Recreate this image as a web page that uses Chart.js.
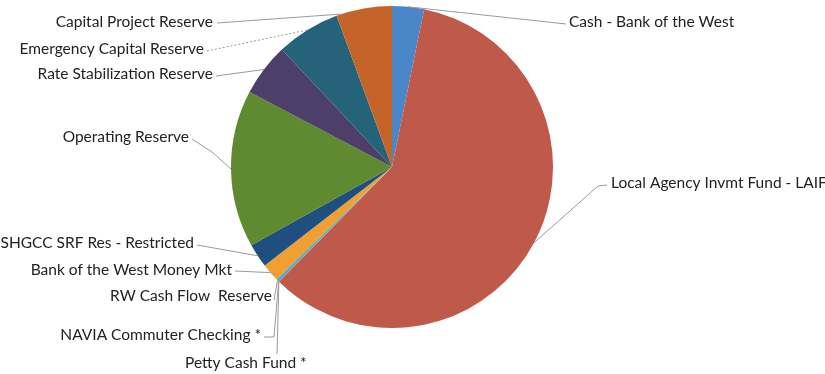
<!DOCTYPE html>
<html>
<head>
<meta charset="utf-8">
<script src="https://cdn.jsdelivr.net/npm/chart.js@4"></script>
<style>
  html, body { margin: 0; padding: 0; background: #ffffff; }
  #wrap { width: 825px; height: 374px; position: relative; }
</style>
</head>
<body>
<div id="wrap"><canvas id="c" width="825" height="374"></canvas></div>
<script>
// ---- data ----
const categories = [
  "Cash - Bank of the West",
  "Local Agency Invmt Fund - LAIF",
  "Petty Cash Fund *",
  "NAVIA Commuter Checking *",
  "RW Cash Flow  Reserve",
  "Bank of the West Money Mkt",
  "SHGCC SRF Res - Restricted",
  "Operating Reserve",
  "Rate Stabilization Reserve",
  "Emergency Capital Reserve",
  "Capital Project Reserve"
];
const percentValues = [3.2, 59.2, 0.03, 0.05, 0.25, 1.8, 2.4, 15.8, 5.3, 6.4, 5.6];
const sliceColors = [
  "#4a86c8", "#bf5a4b", "#8cae4a", "#7a5a9a", "#4babc8", "#f0a032",
  "#1f4f80", "#5f8a30", "#4d3f6a", "#24637a", "#c46428"
];

// ---- label layout (text anchor, alignment, leader path) ----
const labelLayout = [
  { x: 569, y: 22,  align: "left",  from: [566, 24], via: [] },
  { x: 611, y: 183, align: "left",  from: [607, 185], via: [[598, 186]] },
  { x: 185, y: 363, align: "left",  from: [277, 354], via: [] },
  { x: 261, y: 335, align: "right", from: [264, 337], via: [[274, 337]] },
  { x: 272, y: 296, align: "right", from: [274, 300], via: [] },
  { x: 232, y: 270, align: "right", from: [235, 271], via: [] },
  { x: 194, y: 243, align: "right", from: [197, 245], via: [] },
  { x: 189, y: 137, align: "right", from: [192, 139], via: [[212, 152]] },
  { x: 213, y: 74,  align: "right", from: [216, 76], via: [] },
  { x: 204, y: 49,  align: "right", from: [207, 51], via: [], dashed: true },
  { x: 213, y: 22,  align: "right", from: [217, 23], via: [] }
];
const leaderFraction = [0.5, 0.5, 0.5, 0.5, 0.5, 0.5, 0.5, 0.5, 0.5, 0.5, 0.1];

const labelPlugin = {
  id: "pieLabels",
  afterDatasetsDraw(chart) {
    const ctx = chart.ctx;
    const meta = chart.getDatasetMeta(0);
    ctx.save();
    ctx.font = "15.5px Lato";
    ctx.fillStyle = "#222222";
    ctx.textBaseline = "middle";
    meta.data.forEach((arc, i) => {
      const p = arc.getProps(["x", "y", "startAngle", "endAngle", "outerRadius"], true);
      const f = leaderFraction[i];
      const a = p.startAngle + (p.endAngle - p.startAngle) * f;
      const ex = p.x + Math.cos(a) * p.outerRadius;
      const ey = p.y + Math.sin(a) * p.outerRadius;
      const L = labelLayout[i];
      ctx.beginPath();
      ctx.strokeStyle = "#9a9a9a";
      ctx.lineWidth = 1;
      ctx.setLineDash(L.dashed ? [2, 2] : []);
      ctx.moveTo(L.from[0], L.from[1]);
      L.via.forEach(v => ctx.lineTo(v[0], v[1]));
      ctx.lineTo(ex, ey);
      ctx.stroke();
      ctx.setLineDash([]);
      ctx.textAlign = L.align;
      ctx.fillText(categories[i], L.x, L.y);
    });
    ctx.restore();
  }
};

new Chart(document.getElementById("c"), {
  type: "pie",
  data: {
    labels: categories,
    datasets: [{
      data: percentValues,
      backgroundColor: sliceColors,
      borderWidth: 0
    }]
  },
  options: {
    responsive: false,
    animation: false,
    layout: { padding: { left: 231, right: 272, top: 5, bottom: 45 } },
    plugins: {
      legend: { display: false },
      tooltip: { enabled: false }
    }
  },
  plugins: [labelPlugin]
});
</script>
</body>
</html>
